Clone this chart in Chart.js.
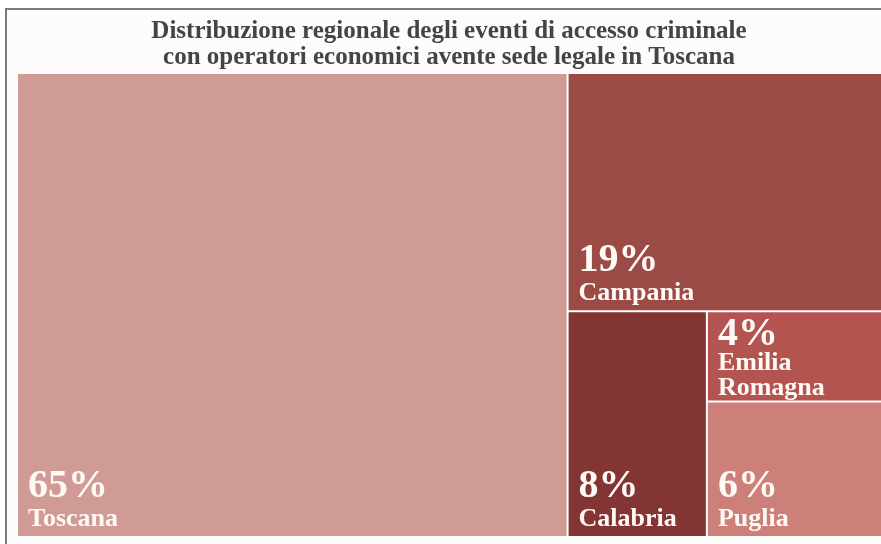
<!DOCTYPE html>
<html lang="it">
<head>
    <meta charset="UTF-8">
    <title>Distribuzione regionale degli eventi di accesso criminale</title>
    <script src="https://cdn.jsdelivr.net/npm/chart.js"></script>
    <style>
        html, body { margin: 0; padding: 0; background: #ffffff; }
        #wrap { width: 881px; height: 544px; }
    </style>
</head>
<body>
    <div id="wrap"><canvas id="myChart"></canvas></div>
    <script>
        // Regions and their share of events (%)
        const regions = ['Toscana', 'Campania', 'Calabria', 'Emilia Romagna', 'Puglia'];
        const shares = [65, 19, 8, 4, 6];
        const colors = ['#d09a95', '#9b4a46', '#833534', '#b45450', '#cd7f79'];
        const titleLines = [
            'Distribuzione regionale degli eventi di accesso criminale',
            'con operatori economici avente sede legale in Toscana'
        ];

        const serif = '"Liberation Serif", "Times New Roman", serif';

        // worst aspect ratio of a row laid along a side of given length
        function worstRatio(row, sum, side, unit) {
            const thick = sum * unit / side;
            let worst = 0;
            row.forEach(v => {
                const len = v * unit / thick;
                worst = Math.max(worst, len / thick, thick / len);
            });
            return worst;
        }

        // squarified layout in data units; kx/ky = pixels per unit
        function squarify(values, x0, y0, x1, y1, kx, ky) {
            const cells = [];
            let remaining = values.reduce((a, b) => a + b, 0);
            let i = 0;
            while (i < values.length) {
                const w = (x1 - x0) * kx, h = (y1 - y0) * ky;
                const unit = w * h / remaining;
                const side = Math.min(w, h);
                const row = [values[i]];
                let sum = values[i];
                let worst = worstRatio(row, sum, side, unit);
                let j = i + 1;
                while (j < values.length) {
                    const next = worstRatio(row.concat(values[j]), sum + values[j], side, unit);
                    if (next > worst) break;
                    row.push(values[j]);
                    sum += values[j];
                    worst = next;
                    j++;
                }
                const frac = sum / remaining;
                if (w >= h) {
                    const xm = x0 + (x1 - x0) * frac;
                    let yy = y0;
                    for (let k = i; k < j; k++) {
                        const y2 = yy + (y1 - y0) * values[k] / sum;
                        cells[k] = { x0: x0, x1: xm, y0: yy, y1: y2 };
                        yy = y2;
                    }
                    x0 = xm;
                } else {
                    const ym = y0 + (y1 - y0) * frac;
                    let xx = x0;
                    for (let k = i; k < j; k++) {
                        const x2 = xx + (x1 - x0) * values[k] / sum;
                        cells[k] = { x0: xx, x1: x2, y0: y0, y1: ym };
                        xx = x2;
                    }
                    y0 = ym;
                }
                remaining -= sum;
                i = j;
            }
            return cells;
        }

        class TreemapController extends Chart.DatasetController {
            static id = 'treemap';
            static defaults = {
                datasetElementType: false,
                dataElementType: 'bar'
            };

            parse(start, count) {
                const meta = this._cachedMeta;
                const data = this.getDataset().data;
                for (let i = start; i < start + count; i++) {
                    meta._parsed[i] = { x: i, y: +data[i] };
                }
            }

            getMinMax(scale) {
                return { min: scale.options.min, max: scale.options.max };
            }

            update(mode) {
                const meta = this._cachedMeta;
                this.updateElements(meta.data, 0, meta.data.length, mode);
            }

            updateElements(rects, start, count, mode) {
                const ds = this.getDataset();
                const xs = this._cachedMeta.xScale;
                const ys = this._cachedMeta.yScale;
                const kx = Math.abs(xs.getPixelForValue(1) - xs.getPixelForValue(0));
                const ky = Math.abs(ys.getPixelForValue(1) - ys.getPixelForValue(0));
                const cells = squarify(ds.data, xs.min, ys.min, xs.max, ys.max, kx, ky);
                for (let i = start; i < start + count; i++) {
                    const c = cells[i];
                    const left = xs.getPixelForValue(c.x0);
                    const right = xs.getPixelForValue(c.x1);
                    const top = ys.getPixelForValue(c.y0);
                    const bottom = ys.getPixelForValue(c.y1);
                    Object.assign(rects[i], {
                        x: (left + right) / 2,
                        y: top,
                        base: bottom,
                        width: right - left,
                        height: bottom - top,
                        horizontal: false,
                        inflateAmount: 0,
                        // no white edge where a cell meets the right side of the plot
                        borderSkipped: { top: false, right: c.x1 >= xs.max, bottom: false, left: false },
                        options: {
                            backgroundColor: ds.backgroundColor[i],
                            borderColor: ds.borderColor,
                            borderWidth: ds.borderWidth,
                            borderRadius: 0
                        }
                    });
                }
            }

            draw() {
                const ctx = this._ctx;
                const rects = this._cachedMeta.data;
                rects.forEach(r => r.draw(ctx));
                this.drawLabels(ctx);
            }

            // percentage and region name in the lower-left corner of each cell
            drawLabels(ctx) {
                const ds = this.getDataset();
                const names = this.chart.data.labels;
                const pad = 11;
                const nameSize = 26, nameGap = 25, pctGap = 29, pctCap = 27;
                ctx.save();
                ctx.fillStyle = '#fffaf6';
                ctx.textAlign = 'left';
                ctx.textBaseline = 'alphabetic';
                this._cachedMeta.data.forEach((r, i) => {
                    const left = r.x - r.width / 2 + pad;
                    const maxW = r.width - 2 * pad;
                    ctx.font = 'bold ' + nameSize + 'px ' + serif;
                    const lines = [];
                    let line = '';
                    names[i].split(' ').forEach(word => {
                        const test = line ? line + ' ' + word : word;
                        if (line && ctx.measureText(test).width > maxW) {
                            lines.push(line);
                            line = word;
                        } else {
                            line = test;
                        }
                    });
                    lines.push(line);

                    const block = pctCap + pctGap + (lines.length - 1) * nameGap;
                    const roomy = block + 2 * pad <= r.height;
                    // tight cells hang the block from the top edge instead
                    const pctBase = roomy
                        ? r.base - pad - (lines.length - 1) * nameGap - pctGap
                        : r.y + 7 + pctCap;
                    ctx.font = 'bold 40px ' + serif;
                    ctx.fillText(ds.data[i] + '%', left, pctBase);
                    ctx.font = 'bold ' + nameSize + 'px ' + serif;
                    const gap = roomy ? pctGap : 25;
                    lines.forEach((l, k) => ctx.fillText(l, left, pctBase + gap + k * nameGap));
                });
                ctx.restore();
            }
        }
        Chart.register(TreemapController);

        // white page with the grey frame of the figure
        const framePlugin = {
            id: 'frame',
            beforeDraw(chart) {
                const ctx = chart.ctx;
                ctx.save();
                ctx.fillStyle = '#ffffff';
                ctx.fillRect(0, 0, chart.width, chart.height);
                ctx.fillStyle = '#fdfcfa';
                ctx.fillRect(7, 10, chart.width - 7, chart.height - 10);
                ctx.fillStyle = '#7a7a7a';
                ctx.fillRect(5, 8, chart.width - 5, 2);
                ctx.fillRect(5, 8, 2, chart.height - 8);
                ctx.restore();
            }
        };

        new Chart(document.getElementById('myChart'), {
            type: 'treemap',
            data: {
                labels: regions,
                datasets: [{
                    data: shares,
                    backgroundColor: colors,
                    borderColor: '#ffffff',
                    borderWidth: 1
                }]
            },
            options: {
                responsive: true,
                maintainAspectRatio: false,
                animation: false,
                events: [],
                layout: { padding: { left: 17, right: 0, top: 8, bottom: 7 } },
                scales: {
                    x: { type: 'linear', min: 0, max: 100, display: false },
                    y: { type: 'linear', min: 0, max: 100, reverse: true, display: false }
                },
                plugins: {
                    legend: { display: false },
                    tooltip: { enabled: false },
                    title: {
                        display: true,
                        text: titleLines,
                        color: '#444444',
                        font: { family: serif, size: 25, weight: 'bold', lineHeight: 1.04 },
                        padding: { top: 11, bottom: 2 }
                    }
                }
            },
            plugins: [framePlugin]
        });
    </script>
</body>
</html>
